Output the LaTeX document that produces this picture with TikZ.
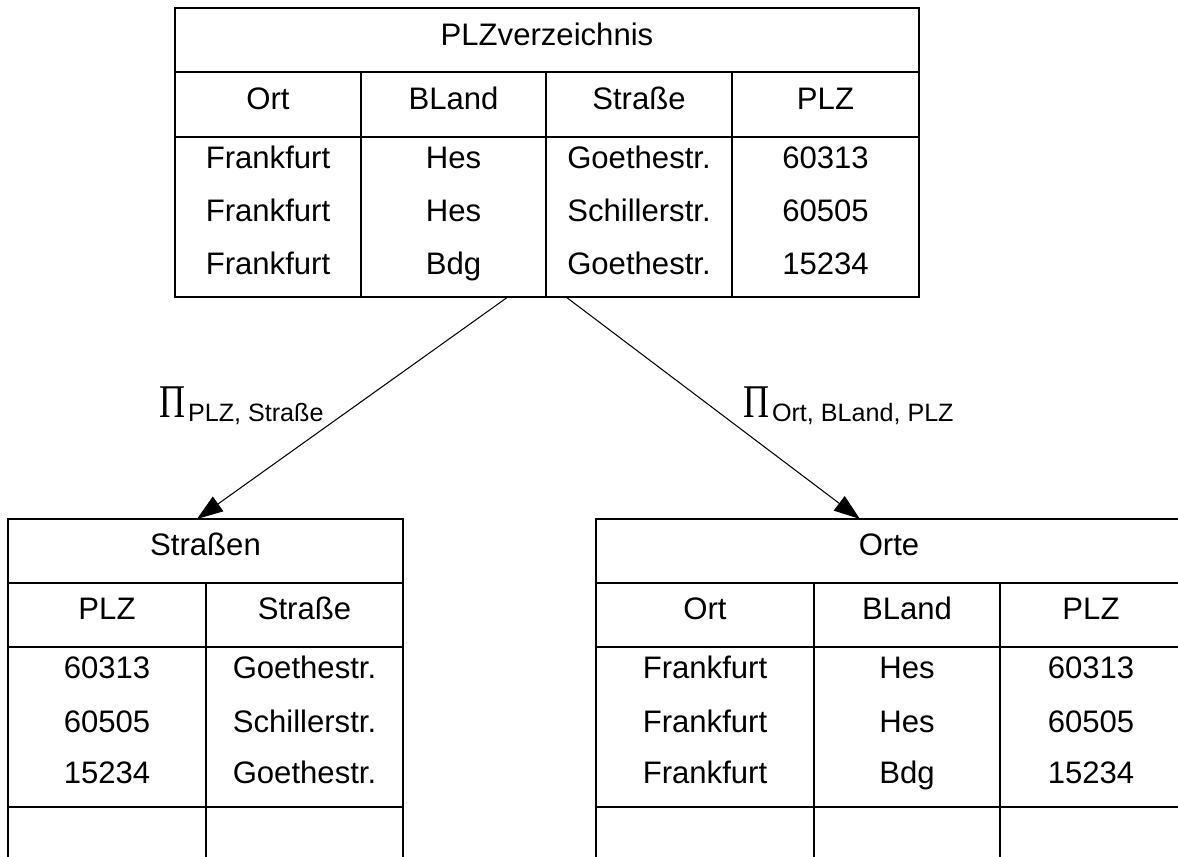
\documentclass[tikz,border=0pt]{standalone}
\usepackage{fontspec}
\setmainfont{Liberation Sans}
\newfontfamily\pifont{Liberation Serif}
\usepackage{graphicx}
\usetikzlibrary{calc,positioning,arrows.meta}
\newcommand{\celltext}{\fontsize{17.7}{20}\selectfont}
\newcommand{\subtext}{\fontsize{14.3}{16}\selectfont}
\newcommand{\projsign}{\raisebox{2.8pt}{\scalebox{0.77}[1]{\pifont\fontsize{26.7}{30}\selectfont Π}}\hspace{1.5pt}}
%% baselines of the rows (in px, y runs downwards)
\newcommand{\plztitle}{46}
\newcommand{\plzhead}{110}
\newcommand{\plzrowone}{169}
\newcommand{\plzrowtwo}{222}
\newcommand{\plzrowthree}{275}
\newcommand{\lowtitle}{556}
\newcommand{\lowhead}{620}
\newcommand{\lowrowone}{679}
\newcommand{\lowrowtwo}{733}
\newcommand{\lowrowthree}{784}

\begin{document}
\begin{tikzpicture}[x=0.02cm,y=-0.02cm]

\tikzstyle{tab}=[draw,line width=1.1pt,outer sep=0pt,inner sep=0pt,anchor=north west]
\tikzstyle{rule}=[line width=1.1pt]
\tikzstyle{cell}=[anchor=base,inner sep=0pt,font=\celltext]
\tikzstyle{proj}=[line width=0.6pt,-{Triangle[length=0.52cm,width=0.36cm]}]

\fill[white] (0,0) rectangle (1178,857);
\useasboundingbox (0,0) rectangle (1178,857);
\clip (0,0) rectangle (1178,857);

%% top table PLZverzeichnis
\node (plzv) [tab, minimum width=14.88cm, minimum height=5.78cm] at (175,8) {};
\draw[rule] (175,72) -- (919,72);
\draw[rule] (175,137) -- (919,137);
\draw[rule] (361,72) -- (361,297);
\draw[rule] (546,72) -- (546,297);
\draw[rule] (732,72) -- (732,297);

\node (plztitle) [cell] at (547,\plztitle) {PLZverzeichnis};
\node (plzort)  [cell] at (268,\plzhead) {Ort};
\node (plzbl)   [cell] at (453.5,\plzhead) {BLand};
\node (plzstr)  [cell] at (639,\plzhead) {Straße};
\node (plzplz)  [cell] at (825.5,\plzhead) {PLZ};

\node (plzortA) [cell] at (268,\plzrowone) {Frankfurt};
\node (plzortB) [cell] at (268,\plzrowtwo) {Frankfurt};
\node (plzortC) [cell] at (268,\plzrowthree) {Frankfurt};
\node (plzblA) [cell] at (453.5,\plzrowone) {Hes};
\node (plzblB) [cell] at (453.5,\plzrowtwo) {Hes};
\node (plzblC) [cell] at (453.5,\plzrowthree) {Bdg};
\node (plzstrA) [cell] at (639,\plzrowone) {Goethestr.};
\node (plzstrB) [cell] at (639,\plzrowtwo) {Schillerstr.};
\node (plzstrC) [cell] at (639,\plzrowthree) {Goethestr.};
\node (plzplzA) [cell] at (825.5,\plzrowone) {60313};
\node (plzplzB) [cell] at (825.5,\plzrowtwo) {60505};
\node (plzplzC) [cell] at (825.5,\plzrowthree) {15234};

%% left table Straßen
\node (strassen) [tab, minimum width=7.9cm, minimum height=7.4cm] at (8,519) {};
\draw[rule] (8,583) -- (403,583);
\draw[rule] (8,647) -- (403,647);
\draw[rule] (8,807) -- (403,807);
\draw[rule] (206,583) -- (206,870);

\node (sttitle) [cell] at (205.5,\lowtitle) {Straßen};
\node (stplz) [cell] at (107,\lowhead) {PLZ};
\node (ststr) [cell] at (304.5,\lowhead) {Straße};
\node (stplzA) [cell] at (107,\lowrowone) {60313};
\node (stplzB) [cell] at (107,\lowrowtwo) {60505};
\node (stplzC) [cell] at (107,\lowrowthree) {15234};
\node (ststrA) [cell] at (304.5,\lowrowone) {Goethestr.};
\node (ststrB) [cell] at (304.5,\lowrowtwo) {Schillerstr.};
\node (ststrC) [cell] at (304.5,\lowrowthree) {Goethestr.};

%% right table Orte
\node (orte) [tab, minimum width=11.72cm, minimum height=7.4cm] at (596,519) {};
\draw[rule] (596,583) -- (1182,583);
\draw[rule] (596,647) -- (1182,647);
\draw[rule] (596,807) -- (1182,807);
\draw[rule] (814,583) -- (814,870);
\draw[rule] (1000,583) -- (1000,870);

\node (ortitle) [cell] at (889,\lowtitle) {Orte};
\node (orort) [cell] at (705,\lowhead) {Ort};
\node (orbl)  [cell] at (907,\lowhead) {BLand};
\node (orplz) [cell] at (1091,\lowhead) {PLZ};
\node (orortA) [cell] at (705,\lowrowone) {Frankfurt};
\node (orortB) [cell] at (705,\lowrowtwo) {Frankfurt};
\node (orortC) [cell] at (705,\lowrowthree) {Frankfurt};
\node (orblA) [cell] at (907,\lowrowone) {Hes};
\node (orblB) [cell] at (907,\lowrowtwo) {Hes};
\node (orblC) [cell] at (907,\lowrowthree) {Bdg};
\node (orplzA) [cell] at (1091,\lowrowone) {60313};
\node (orplzB) [cell] at (1091,\lowrowtwo) {60505};
\node (orplzC) [cell] at (1091,\lowrowthree) {15234};

%% projections
\draw[proj] ($(plzv.south)+(-39,0)$) -- ($(strassen.north)+(-8.5,0)$);
\draw[proj] ($(plzv.south)+(19,0)$) -- ($(orte.north)+(-29,0)$);

\node (projleft) [anchor=base west,inner sep=0pt] at (159,422) {\projsign{\subtext PLZ, Straße}};
\node (projright) [anchor=base west,inner sep=0pt] at (743,422) {\projsign{\subtext Ort, BLand, PLZ}};

\end{tikzpicture}
\end{document}
